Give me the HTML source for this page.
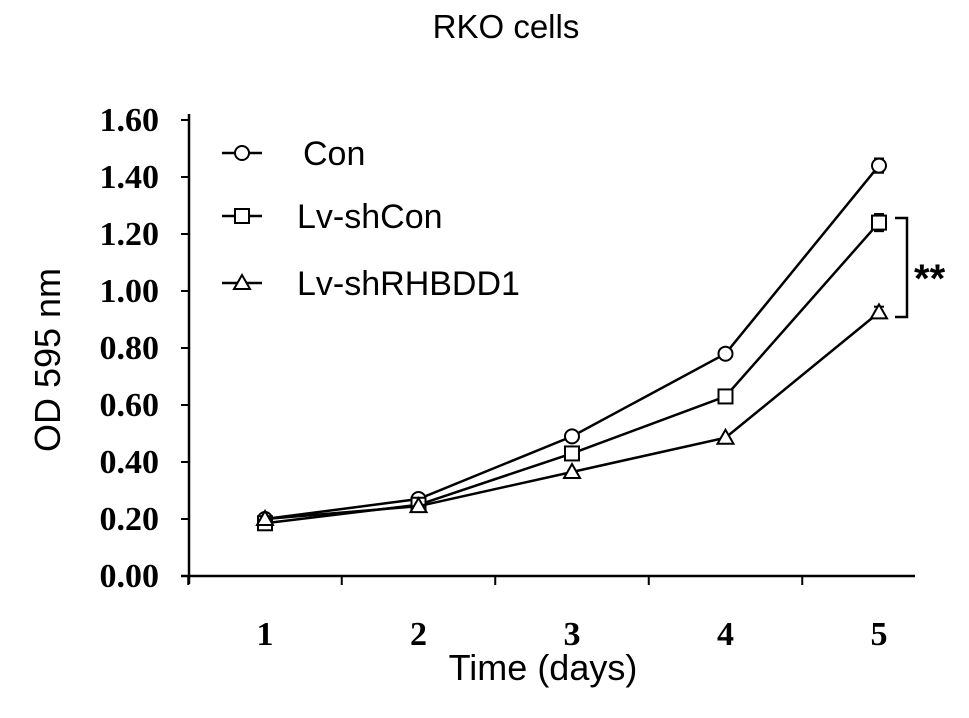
<!DOCTYPE html>
<html><head><meta charset="utf-8"><style>
body{margin:0;background:#fff}
svg{display:block}
.tk{font-family:"Liberation Serif",serif;font-weight:bold;font-size:34px}
.sf{font-family:"Liberation Sans",sans-serif}
</style></head><body>
<svg id="c" width="969" height="718"></svg>
<script>
const days=[1,2,3,4,5];
const yTicks=[0,0.2,0.4,0.6,0.8,1.0,1.2,1.4,1.6];
const yTickLabels=["0.00","0.20","0.40","0.60","0.80","1.00","1.20","1.40","1.60"];
const seriesNames=["Con","Lv-shCon","Lv-shRHBDD1"];
const conVals=[0.20,0.27,0.49,0.78,1.44];
const shConVals=[0.185,0.25,0.43,0.63,1.24];
const shRVals=[0.20,0.245,0.365,0.485,0.925];
const conErr=[0,0,0,0,0.025];
const shConErr=[0,0,0,0,0.03];
const shRErr=[0,0,0,0,0.02];
const NS="http://www.w3.org/2000/svg";
const svg=document.getElementById('c');
const X=d=>265+(d-1)*153.5;
const Y=v=>576-v*285;
function mk(t,a,p){const e=document.createElementNS(NS,t);for(const k in a)e.setAttribute(k,a[k]);(p||svg).appendChild(e);return e;}
let e;
e=mk('text',{x:506,y:38,'text-anchor':'middle','font-size':33,class:'sf'});e.textContent='RKO cells';


e=mk('line',{x1:189,y1:114,x2:189,y2:584,stroke:'#000','stroke-width':2.5});


e=mk('line',{x1:181,y1:576,x2:915,y2:576,stroke:'#000','stroke-width':2.5});


yTicks.forEach((v,i)=>{
 mk('line',{x1:181,y1:Y(v),x2:189,y2:Y(v),stroke:'#000','stroke-width':2});
 e=mk('text',{x:159,y:Y(v)+11,'text-anchor':'end',class:'tk'});e.textContent=yTickLabels[i];
 
 
});
days.forEach(d=>{
 mk('line',{x1:X(d)-76.75,y1:576,x2:X(d)-76.75,y2:585,stroke:'#000','stroke-width':2});
 e=mk('text',{x:X(d),y:645,'text-anchor':'middle',class:'tk'});e.textContent=d;
 
 
});
e=mk('text',{x:543,y:680,'text-anchor':'middle','font-size':36,class:'sf'});e.textContent='Time (days)';


e=mk('text',{x:0,y:0,'text-anchor':'middle','font-size':36,class:'sf',transform:'translate(60,360) rotate(-90)'});e.textContent='OD 595 nm';


function marker(type,x,y,g){
 if(type==0)return mk('circle',{cx:x,cy:y,r:7,fill:'#fff',stroke:'#000','stroke-width':2},g);
 if(type==1)return mk('rect',{x:x-7,y:y-7,width:14,height:14,fill:'#fff',stroke:'#000','stroke-width':2},g);
 return mk('polygon',{points:`${x},${y-8} ${x-8},${y+6} ${x+8},${y+6}`,fill:'#fff',stroke:'#000','stroke-width':2},g);
}
const all=[conVals,shConVals,shRVals],errs=[conErr,shConErr,shRErr];
all.forEach((vals,s)=>{
 const g=mk('g',{});
 
 
 mk('polyline',{points:vals.map((v,i)=>X(days[i])+','+Y(v)).join(' '),fill:'none',stroke:'#000','stroke-width':2.5},g);
 vals.forEach((v,i)=>{
  if(errs[s][i]>0){
   const x=X(days[i]);
   mk('line',{x1:x,y1:Y(v+errs[s][i]),x2:x,y2:Y(v-errs[s][i]),stroke:'#000','stroke-width':2},g);
   mk('line',{x1:x-5,y1:Y(v+errs[s][i]),x2:x+5,y2:Y(v+errs[s][i]),stroke:'#000','stroke-width':2},g);
   mk('line',{x1:x-5,y1:Y(v-errs[s][i]),x2:x+5,y2:Y(v-errs[s][i]),stroke:'#000','stroke-width':2},g);
  }
  const m=marker(s,X(days[i]),Y(v),g);
  
  
 });
});
const legY=[153,216,283],legTx=[303,297,297];
seriesNames.forEach((n,i)=>{
 const g=mk('g',{});
 
 
 mk('line',{x1:222,y1:legY[i],x2:262,y2:legY[i],stroke:'#000','stroke-width':2.5},g);
 marker(i,242,legY[i],g);
 const t=mk('text',{x:legTx[i],y:legY[i]+12,'font-size':34,class:'sf'},g);t.textContent=n;
});
e=mk('polyline',{points:'895,218 907,218 907,317 895,317',fill:'none',stroke:'#000','stroke-width':2.5});


e=mk('text',{x:914,y:292,'font-size':40,'font-weight':'bold',class:'sf'});e.textContent='**';


</script>
</body></html>
